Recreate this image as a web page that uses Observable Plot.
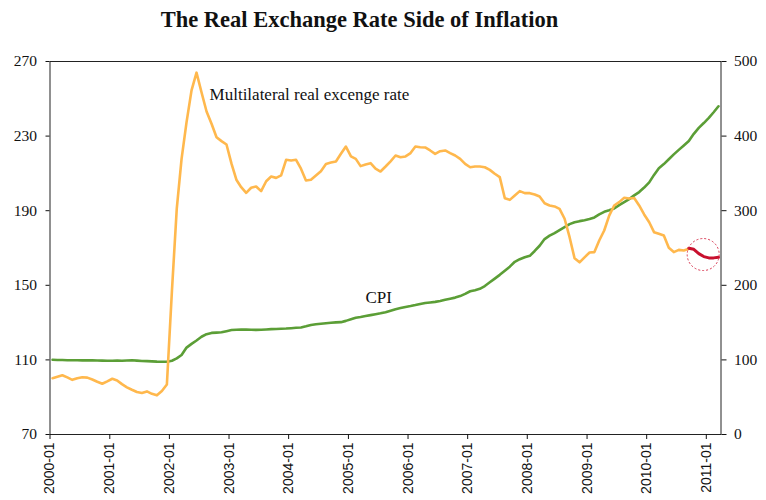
<!DOCTYPE html>
<html><head><meta charset="utf-8">
<script src="https://cdn.jsdelivr.net/npm/d3@7"></script>
<script src="https://cdn.jsdelivr.net/npm/@observablehq/plot@0.6"></script>
<style>
body{margin:0;background:#fff;}
#title{position:relative;height:40px;width:766px;font-family:"Liberation Serif",serif;font-weight:bold;font-size:22.5px;color:#111;}
#title span{position:absolute;left:0;width:719px;text-align:center;top:7px;line-height:26px;}
#chart svg{display:block;}
</style></head><body>
<div id="title"><span>The Real Exchange Rate Side of Inflation</span></div>
<div id="chart"></div>
<script>
// First month of the monthly series
const startMonth = "2000-01";
const endMonth = "2011-04"; // exclusive end of the category axis

// Multilateral real exchange rate (left axis), monthly from 2000-01 to 2010-09
const rer = [
  100.2, 101.0, 101.8, 100.6, 99.3, 100.2, 100.7, 100.5, 99.5, 98.3, 97.2, 98.5,
  99.9, 99.0, 97.0, 95.3, 94.0, 92.8, 92.3, 93.1, 91.8, 91.0, 93.3, 96.8,
  147, 191, 217.8, 237.5, 254.5, 264, 253.5, 243.2, 236.6, 229.4, 227.3, 225.5,
  215.1, 206.6, 202.6, 199.6, 202.3, 203, 200.5, 205.8, 208.3, 207.6, 208.9, 217.3,
  216.9, 217.3, 212.5, 206.2, 206.6, 208.9, 211.2, 215.1, 215.8, 216.4, 220.5, 224.4,
  219.1, 217.8, 213.9, 214.8, 215.5, 212.5, 211, 213.7, 216.5, 219.6, 218.7, 219.1,
  220.9, 224.4, 224, 223.9, 222.3, 220.5, 221.9, 222.3, 220.9, 219.6, 217.8, 215.1,
  213.3, 213.7, 213.7, 213.3, 211.9, 209.8, 208, 196.7, 195.8, 198.1, 200.5, 199.4,
  199.4, 198.7, 197.6, 194, 192.8, 192.3, 191, 185.7, 175.8, 164.5, 162.3, 165,
  167.6, 167.8, 174, 179.4, 187.4, 192.8, 194.6, 196.9, 196.5, 196.8, 192.8, 188,
  183.8, 178.5, 177.6, 176.7, 170.1, 167.8, 169, 168.7, 169.6
];
// Most recent stretch highlighted in red, from 2010-09
const rerRecentStart = "2010-09";
const rerRecent = [169.9, 169.3, 167, 165.4, 164.7, 164.7, 165];

// CPI (right axis), monthly from 2000-01 to 2011-03
const cpi = [
  100.1, 99.9, 99.8, 99.6, 99.5, 99.6, 99.4, 99.3, 99.3, 99.1, 99.0, 98.9,
  98.9, 99.0, 98.9, 99.2, 99.5, 99.0, 98.5, 98.3, 98.0, 97.7, 97.6, 97.6,
  98.9, 102.0, 106.5, 116.5, 121.5, 126, 131, 134.5, 136.2, 136.6, 137, 138.5,
  140, 140.5, 140.8, 140.6, 140.4, 140.2, 140.4, 140.8, 141.2, 141.4, 141.7, 142.0,
  142.5, 143, 143.4, 145, 146.8, 147.8, 148.5, 149.2, 149.8, 150.3, 150.6, 152.3,
  154.5, 156.5, 157.5, 158.8, 160, 161.3, 162.5, 164, 166, 168, 169.5, 171,
  172.2, 173.5, 175, 176.3, 177, 177.8, 179, 180.5, 182, 183.5, 185.5, 188.5,
  192, 193.5, 195.3, 199, 204, 209, 214, 219.5, 225, 231.5, 235, 237.5,
  239.5, 246, 253, 262, 266.5, 270, 274, 278, 282, 284.5, 286, 287.3,
  288.8, 291, 295, 298.5, 300.5, 303, 307.5, 311.5, 315.5, 320.5, 325, 331,
  338, 348, 357, 362.5, 369, 375.5, 381.5, 387.5, 393.5, 403, 411, 417.5, 424.5, 432, 440
];

const leftTicks = [70, 110, 150, 190, 230, 270];
const rightTicks = [0, 100, 200, 300, 400, 500];
const yearTicks = ["2000-01","2001-01","2002-01","2003-01","2004-01","2005-01",
  "2006-01","2007-01","2008-01","2009-01","2010-01","2011-01"];

const rerLabel = [{text: "Multilateral real excenge rate", date: "2002-09-04", value: 252.4}];
const cpiLabel = [{text: "CPI", date: "2005-07-05", value: 143.4}];
const highlight = [{date: "2010-12-13", value: 166.5}];

// ---- build tables ----
const parseM = d3.utcParse("%Y-%m");
const t0 = parseM(startMonth);
const mid = (m0) => { const m1 = d3.utcMonth.offset(m0, 1); return new Date((+m0 + +m1) / 2); };
const monthly = (start, arr) => arr.map((v, i) => ({date: mid(d3.utcMonth.offset(start, i)), v}));
const rerData = monthly(t0, rer);
const rerRecentData = monthly(parseM(rerRecentStart), rerRecent);
const cpiData = monthly(t0, cpi);
// right-axis values mapped onto the left scale: 0..500 -> 70..270
const toLeft = r => 70 + r / 2.5;
const toRight = l => (l - 70) * 2.5;

const serif = "'Liberation Serif', serif";
const chart = Plot.plot({
  width: 766,
  height: 460,
  marginTop: 21,
  marginBottom: 66,
  marginLeft: 49.5,
  marginRight: 45.5,
  style: {fontFamily: serif, fontSize: "15.5px", color: "#111", background: "#fff"},
  x: {type: "utc", domain: [t0, parseM(endMonth)]},
  y: {domain: [70, 270]},
  marks: [
    Plot.frame({stroke: "#222", strokeWidth: 1}),
    Plot.line(cpiData, {x: "date", y: d => toLeft(d.v), stroke: "#5b9e36", strokeWidth: 2.6}),
    Plot.line(rerData, {x: "date", y: "v", stroke: "#ffb84d", strokeWidth: 2.6}),
    Plot.line(rerRecentData, {x: "date", y: "v", stroke: "#c8102e", strokeWidth: 3}),
    Plot.dot(highlight, {x: d => d3.isoParse(d.date), y: "value", r: 16, fill: "none",
      stroke: "#d8344f", strokeWidth: 1, strokeDasharray: "2,2"}),
    Plot.text(rerLabel, {x: d => d3.isoParse(d.date), y: "value", text: "text",
      textAnchor: "start", fontSize: 17, fill: "#111", fontFamily: serif}),
    Plot.text(cpiLabel, {x: d => d3.isoParse(d.date), y: "value", text: "text",
      textAnchor: "middle", fontSize: 17, fill: "#111", fontFamily: serif}),
    Plot.axisY({anchor: "left", ticks: leftTicks, tickSize: 4, tickPadding: 9, label: null,
      fontSize: 15.5, fontFamily: serif}),
    Plot.axisY({anchor: "right", ticks: rightTicks.map(toLeft), tickFormat: d => String(Math.round(toRight(d))),
      tickSize: 5, tickPadding: 8, label: null, fontSize: 15.5, fontFamily: serif}),
    Plot.axisX({ticks: yearTicks.map(parseM), tickFormat: d3.utcFormat("%Y-%m"), tickRotate: -90,
      tickSize: 5, tickPadding: 3, label: null, fontSize: 14, fontFamily: "'Liberation Sans', sans-serif"})
  ]
});
document.getElementById("chart").appendChild(chart);
</script>
</body></html>
